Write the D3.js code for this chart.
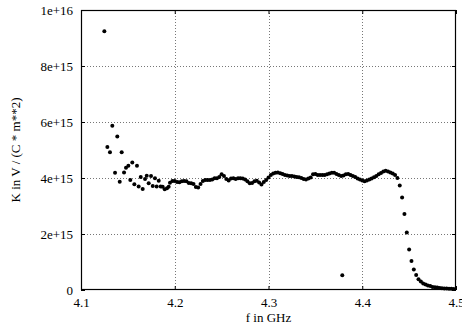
<!DOCTYPE html>
<html>
<head>
<meta charset="utf-8">
<script src="https://cdn.jsdelivr.net/npm/d3@7"></script>
<style>
  body { margin: 0; background: #fff; }
  svg { display: block; }
  .tick text { font-family: "Liberation Serif", "Times New Roman", serif; font-size: 13px; fill: #000; }
  .label { font-family: "Liberation Serif", "Times New Roman", serif; font-size: 13px; fill: #000; }
  .grid line { stroke: #777; stroke-dasharray: 1,2; shape-rendering: crispEdges; }
</style>
</head>
<body>
<svg id="chart" width="462" height="331"></svg>
<script>
'use strict';

// noisy low-frequency part (GHz, 1e15 V/(C m^2))
var startFreq = [4.1249, 4.1281, 4.1309, 4.1334, 4.1363, 4.1387, 4.1413, 4.1434, 4.1459, 4.1480,
    4.1505, 4.1526, 4.1547, 4.1569, 4.1597, 4.1615, 4.1637, 4.1658, 4.1683, 4.1701,
    4.1722, 4.1747, 4.1765, 4.1789, 4.1807, 4.1829, 4.1850, 4.1871, 4.1893, 4.1917,
    4.1935, 4.1949];
var startK = [9.24, 5.11, 4.92, 5.87, 4.19, 5.48, 3.87, 4.92, 4.20, 4.37,
    4.44, 3.93, 4.55, 3.78, 4.44, 3.70, 4.04, 3.61, 3.96, 4.08,
    3.81, 4.07, 3.71, 3.99, 3.70, 3.90, 3.70, 3.69, 3.60, 3.63,
    3.69, 3.83];

// plateau and fall-off
var bandFreq = [4.1975, 4.2000, 4.2025, 4.2050, 4.2075, 4.2100, 4.2125, 4.2150, 4.2175, 4.2200,
    4.2225, 4.2250, 4.2275, 4.2300, 4.2325, 4.2350, 4.2375, 4.2400, 4.2425, 4.2450,
    4.2475, 4.2500, 4.2525, 4.2550, 4.2575, 4.2600, 4.2625, 4.2650, 4.2675, 4.2700,
    4.2725, 4.2750, 4.2775, 4.2800, 4.2825, 4.2850, 4.2875, 4.2900, 4.2925, 4.2950,
    4.2975, 4.3000, 4.3025, 4.3050, 4.3075, 4.3100, 4.3125, 4.3150, 4.3175, 4.3200,
    4.3225, 4.3250, 4.3275, 4.3300, 4.3325, 4.3350, 4.3375, 4.3400, 4.3425, 4.3450,
    4.3475, 4.3500, 4.3525, 4.3550, 4.3575, 4.3600, 4.3625, 4.3650, 4.3675, 4.3700,
    4.3725, 4.3750, 4.3775, 4.3800, 4.3825, 4.3850, 4.3875, 4.3900, 4.3925, 4.3950,
    4.3975, 4.4000, 4.4025, 4.4050, 4.4075, 4.4100, 4.4125, 4.4150, 4.4175, 4.4200,
    4.4225, 4.4250, 4.4275, 4.4300, 4.4325, 4.4350, 4.4375, 4.4400, 4.4425, 4.4450,
    4.4475, 4.4500, 4.4525, 4.4550, 4.4575, 4.4600, 4.4625, 4.4650, 4.4675, 4.4700,
    4.4725, 4.4750, 4.4775, 4.4800, 4.4825, 4.4850, 4.4875, 4.4900, 4.4925, 4.4950,
    4.4975];
var bandK = [3.89, 3.89, 3.86, 3.85, 3.88, 3.89, 3.88, 3.82, 3.81, 3.79,
    3.68, 3.66, 3.79, 3.89, 3.93, 3.93, 3.93, 3.95, 3.99, 3.99,
    4.04, 4.13, 4.07, 3.96, 3.91, 3.98, 3.99, 3.96, 3.99, 3.99,
    3.98, 3.95, 3.88, 3.81, 3.82, 3.88, 3.90, 3.84, 3.77, 3.86,
    3.93, 4.02, 4.11, 4.16, 4.19, 4.20, 4.17, 4.14, 4.11, 4.09,
    4.07, 4.07, 4.05, 4.04, 4.03, 4.00, 3.96, 3.95, 3.98, 4.02,
    4.13, 4.14, 4.11, 4.11, 4.11, 4.11, 4.13, 4.16, 4.19, 4.19,
    4.14, 4.11, 4.07, 4.09, 4.13, 4.14, 4.11, 4.07, 4.04, 3.98,
    3.95, 3.91, 3.88, 3.91, 3.95, 3.98, 4.03, 4.07, 4.13, 4.18,
    4.23, 4.26, 4.23, 4.20, 4.16, 4.11, 4.00, 3.73, 3.30, 2.71,
    2.05, 1.45, 1.04, 0.73, 0.54, 0.38, 0.30, 0.23, 0.20, 0.16,
    0.14, 0.11, 0.10, 0.086, 0.075, 0.064, 0.057, 0.050, 0.046, 0.043,
    0.039];

// stray point
var strayFreq = [4.3787];
var strayK = [0.525];

var xTicks = [4.1, 4.2, 4.3, 4.4, 4.5];
var yTicks = [0, 2e15, 4e15, 6e15, 8e15, 1e16];
var yTickLabels = ['0', '2e+15', '4e+15', '6e+15', '8e+15', '1e+16'];

var margin = { top: 10, right: 6, bottom: 41, left: 81 };
var WIDTH = 462 - margin.left - margin.right;
var HEIGHT = 331 - margin.top - margin.bottom;

var points = [];
[[startFreq, startK], [bandFreq, bandK], [strayFreq, strayK]].forEach(function(s) {
    s[0].forEach(function(f, i) {
        points.push({ f: f, k: s[1][i] * 1e15 });
    });
});

var x = d3.scaleLinear().domain([4.1, 4.5]).range([0, WIDTH]);
var y = d3.scaleLinear().domain([0, 1e16]).range([HEIGHT, 0]);

var svg = d3.select('#chart').append('g')
    .attr('transform', 'translate(' + margin.left + ',' + margin.top + ')');

// grid
var grid = svg.append('g').attr('class', 'grid');
grid.selectAll('.gx')
    .data(xTicks.slice(1, -1))
    .enter().append('line')
    .attr('x1', function(d) { return Math.round(x(d)) + 0.5; })
    .attr('x2', function(d) { return Math.round(x(d)) + 0.5; })
    .attr('y1', 0)
    .attr('y2', HEIGHT);
grid.selectAll('.gy')
    .data(yTicks.slice(1, -1))
    .enter().append('line')
    .attr('y1', function(d) { return Math.round(y(d)) + 0.5; })
    .attr('y2', function(d) { return Math.round(y(d)) + 0.5; })
    .attr('x1', 0)
    .attr('x2', WIDTH);

// axes
var axisX = d3.axisBottom(x)
    .tickValues(xTicks)
    .tickFormat(d3.format('.1f'))
    .tickSizeInner(-4)
    .tickSizeOuter(0)
    .tickPadding(8);
var axisY = d3.axisLeft(y)
    .tickValues(yTicks)
    .tickFormat(function(d, i) { return yTickLabels[i]; })
    .tickSizeInner(-4)
    .tickSizeOuter(0)
    .tickPadding(8);

var gx = svg.append('g')
    .attr('transform', 'translate(0,' + HEIGHT + ')')
    .call(axisX);
var gy = svg.append('g').call(axisY);

// mirrored ticks on top and right
svg.append('g').call(d3.axisTop(x).tickValues(xTicks).tickSizeInner(-4).tickSizeOuter(0).tickFormat(''));
svg.append('g')
    .attr('transform', 'translate(' + WIDTH + ',0)')
    .call(d3.axisRight(y).tickValues(yTicks).tickSizeInner(-4).tickSizeOuter(0).tickFormat(''));

svg.selectAll('.domain').remove();
svg.selectAll('.tick line').attr('stroke', '#000');

// frame
svg.append('rect')
    .attr('x', 0.5)
    .attr('y', 0.5)
    .attr('width', WIDTH - 1)
    .attr('height', HEIGHT - 1)
    .attr('fill', 'none')
    .attr('stroke', '#000')
    .attr('stroke-width', 1.2);

// data points
svg.append('g').selectAll('circle')
    .data(points)
    .enter().append('circle')
    .attr('cx', function(d) { return x(d.f); })
    .attr('cy', function(d) { return y(d.k); })
    .attr('r', 2)
    .attr('fill', '#000');

// axis titles
svg.append('text')
    .attr('class', 'label')
    .attr('x', WIDTH / 2)
    .attr('y', HEIGHT + 32)
    .attr('text-anchor', 'middle')
    .text('f in GHz');

svg.append('text')
    .attr('class', 'label')
    .attr('transform', 'translate(' + (-61) + ',' + (HEIGHT / 2) + ') rotate(-90)')
    .attr('text-anchor', 'middle')
    .text('K in V / (C * m**2)');
</script>
</body>
</html>
